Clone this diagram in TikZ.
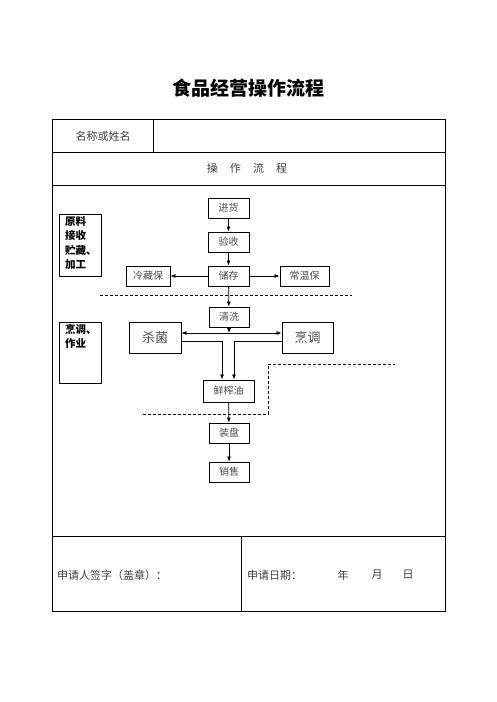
\documentclass[tikz,border=0pt]{standalone}
\usepackage{fontspec}
\newfontfamily\cjk{Noto Sans CJK SC}
\usetikzlibrary{arrows.meta,calc}
\begin{document}
\begin{tikzpicture}[x=1pt,y=-1pt,
  fbox/.style={draw, line width=0.9pt, inner sep=0pt, font=\cjk\fontsize{10}{10}\selectfont, text=black!70},
  bigbox/.style={fbox, font=\cjk\fontsize{13}{13}\selectfont},
  lbl/.style={draw, line width=0.9pt, inner sep=0pt, anchor=north west},
  lbltext/.style={anchor=north west, inner sep=0pt, align=left, font=\cjk\bfseries\fontsize{10.5}{14.5}\selectfont},
  arr/.style={-{Latex[length=5pt,width=4pt]}, line width=0.8pt},
  arrb/.style={{Latex[length=5pt,width=4pt]}-{Latex[length=5pt,width=4pt]}, line width=0.8pt},
  dsh/.style={line width=0.8pt, dash pattern=on 3pt off 2pt},
  tbl/.style={line width=1pt},
  ttext/.style={font=\cjk\fontsize{11}{11}\selectfont, text=black!75, inner sep=0pt}]
\useasboundingbox (0,0) rectangle (496,702);
\fill[white] (0,0) rectangle (496,702);
% title
\node[font=\cjk\bfseries\fontsize{19}{19}\selectfont, inner sep=0pt] (title) at (248,88) {食品经营操作流程};
% table
\draw[tbl] (52,119) rectangle (445,611);
\draw[tbl] (52,152) -- (445,152);
\draw[tbl] (52,185) -- (445,185);
\draw[tbl] (52,536) -- (445,536);
\draw[tbl] (153,119) -- (153,152);
\draw[tbl] (241,536) -- (241,611);
\node[ttext] (name) at (103,136) {名称或姓名};
\node[ttext] (flow) at (247,168) {操\hspace{1.1em}作\hspace{1.1em}流\hspace{1.1em}程};
\node[ttext, anchor=west] (sign) at (57,575) {申请人签字（盖章）：};
\node[ttext, anchor=west] (date) at (247,575) {申请日期：};
\node[ttext] (nian) at (343,575) {年};
\node[ttext] (yue) at (377,575) {月};
\node[ttext] (ri) at (408,575) {日};
% side labels
\node[lbl, minimum width=42pt, minimum height=62pt] (l1) at (59,214) {};
\node[lbltext] (l1t) at (65,216) {原料\\接收\\贮藏、\\加工};
\node[lbl, minimum width=42pt, minimum height=61pt] (l2) at (59,322) {};
\node[lbltext] (l2t) at (65,324) {烹调、\\作业};
% flow boxes
\node[fbox, minimum width=41pt, minimum height=20pt] (jh) at (228.5,208) {进货};
\node[fbox, minimum width=41pt, minimum height=20pt] (ys) at (228.5,242) {验收};
\node[fbox, minimum width=41pt, minimum height=20pt] (cc) at (228.5,276) {储存};
\node[fbox, minimum width=44pt, minimum height=20pt] (lc) at (148,276) {冷藏保};
\node[fbox, minimum width=49pt, minimum height=20pt] (cw) at (304.5,276) {常温保};
\node[fbox, minimum width=40pt, minimum height=20pt] (qx) at (229,317) {清洗};
\node[bigbox, minimum width=52pt, minimum height=31pt] (sj) at (155,337.5) {杀菌};
\node[bigbox, minimum width=51pt, minimum height=31pt] (pt) at (307.5,337.5) {烹调};
\node[fbox, minimum width=51pt, minimum height=22pt] (xz) at (228.5,391) {鲜榨油};
\node[fbox, minimum width=40pt, minimum height=20pt] (zp) at (229,433) {装盘};
\node[fbox, minimum width=40pt, minimum height=20pt] (xs) at (229,472) {销售};
% connectors
\draw[arr] (jh) -- (ys);
\draw[arr] (ys) -- (cc);
\draw[arr] (cc) -- (lc);
\draw[arr] (cc) -- (cw);
\draw[arr] (cc) -- (qx);
\coordinate (hj) at (229,333);
\draw[arrb] (sj.east |- hj) -- (pt.west |- hj);
\draw[arr] (qx) -- (hj);
\coordinate (ja) at (222,341);
\coordinate (jb) at (234,341);
\draw[arr] (sj.east |- ja) -| (xz.north -| ja);
\draw[arr] (pt.west |- jb) -| (xz.north -| jb);
\draw[arr] (xz) -- (zp);
\draw[arr] (zp) -- (xs);
% dashed separators
\draw[dsh] (100,295) -- (352,295);
\draw[dsh] (143,414) -- (268,414) -- (268,364) -- (395,364);
\end{tikzpicture}
\end{document}
